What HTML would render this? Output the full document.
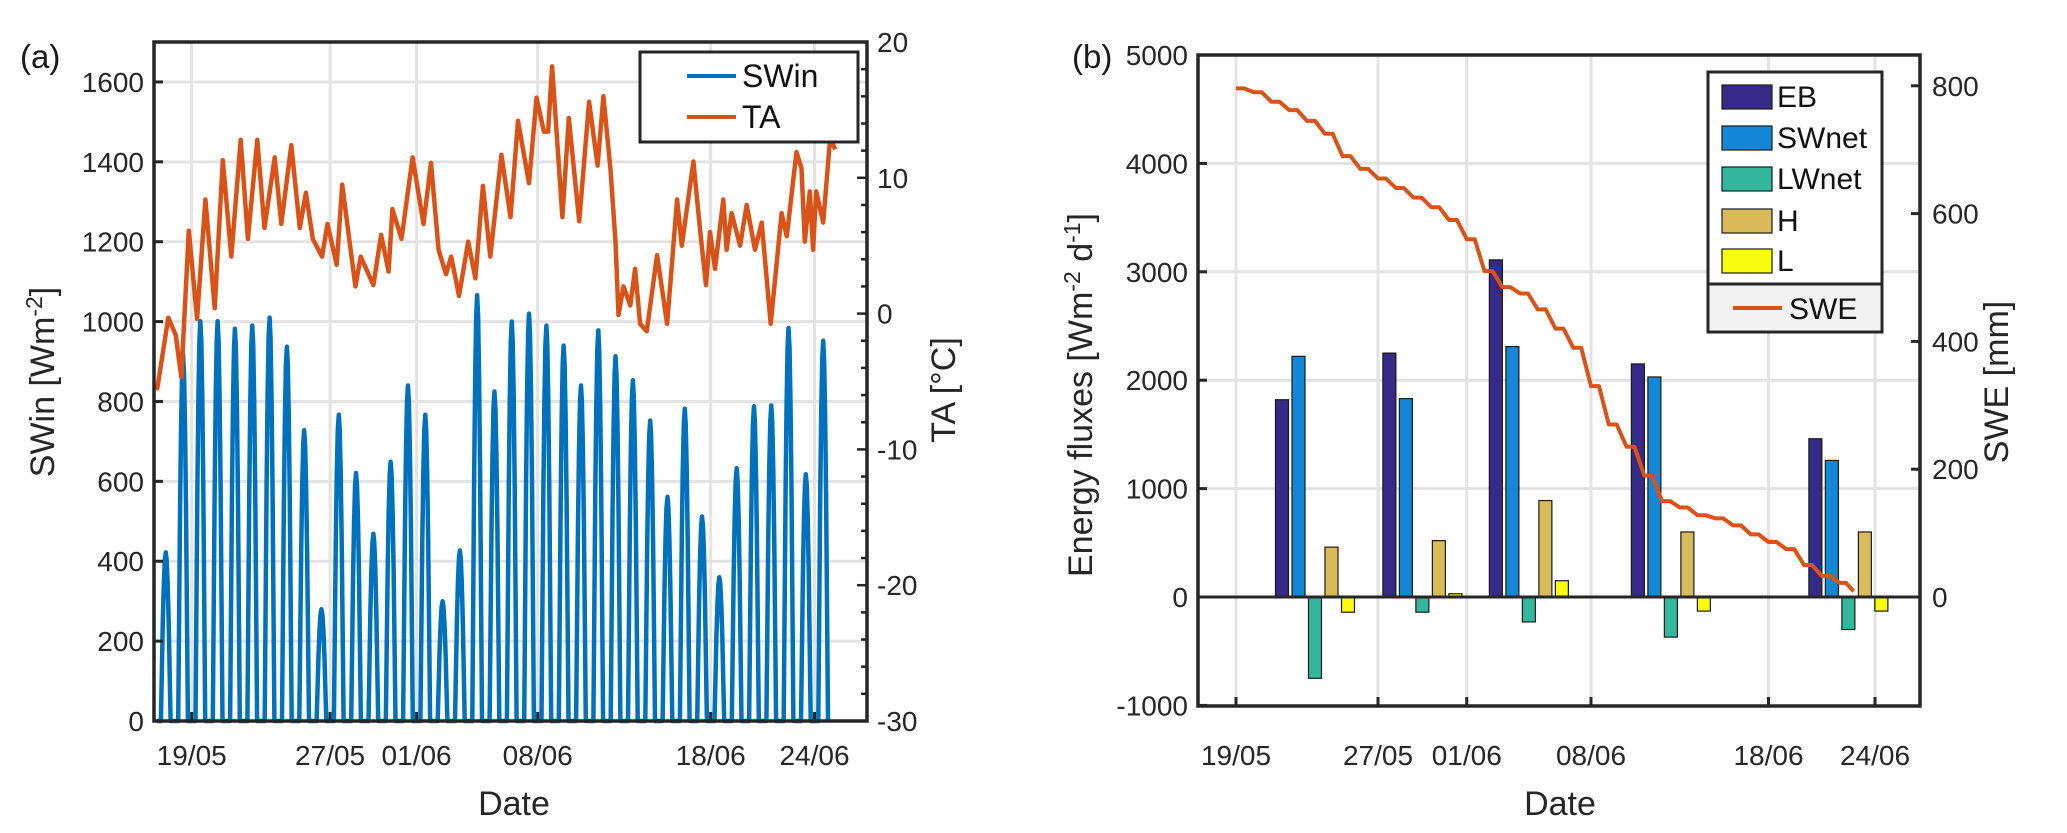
<!DOCTYPE html>
<html><head><meta charset="utf-8"><style>
html,body{margin:0;padding:0;background:#fff;}
svg{display:block;font-family:"Liberation Sans",Arial,sans-serif;}
</style></head><body>
<svg id="chart" width="2067" height="833" viewBox="0 0 2067 833" xmlns="http://www.w3.org/2000/svg"></svg>
<script>
// ---------- Panel (a) data ----------
const dateTicks = ["19/05","27/05","01/06","08/06","18/06","24/06"];
const dateTickDays = [0, 8, 13, 20, 30, 36];
const swinTicks = [0,200,400,600,800,1000,1200,1400,1600];
const taTicks = [-30,-20,-10,0,10,20];
const swinStartDay = -2;
const swinPeaks = [422,918,1001,1001,982,990,1010,937,728,280,767,621,469,649,840,767,300,427,1066,825,1000,1020,990,940,840,978,913,853,752,561,782,512,360,633,788,790,984,618,952];
const taDay = [-2.15,-1.99,-1.35,-0.92,-0.6,-0.17,0.31,0.79,1.33,1.8,2.29,2.83,3.25,3.79,4.21,4.8,5.18,5.76,6.25,6.6,7.0,7.53,7.85,8.38,8.7,9.46,9.77,10.5,10.95,11.38,11.6,12.13,12.77,13.4,13.83,14.27,14.7,15.0,15.45,15.98,16.4,16.83,17.26,17.9,18.43,18.86,19.5,19.93,20.36,20.6,20.83,21.43,21.8,22.4,22.97,23.46,23.8,24.2,24.5,24.67,24.96,25.35,25.63,25.92,26.3,26.9,27.48,28.06,28.33,29.0,29.4,29.73,29.96,30.25,30.73,30.92,31.21,31.7,32.08,32.56,32.95,33.47,34.1,34.4,34.96,35.25,35.44,35.73,35.92,36.1,36.5,36.9,37.2];
const taVal = [-5.3,-5.5,-0.3,-1.6,-4.7,6.1,-0.4,8.4,0.4,11.3,4.2,12.8,5.5,12.8,6.3,11.5,6.6,12.4,6.3,8.9,5.5,4.2,6.6,3.6,9.5,2.0,4.2,2.1,5.8,3.1,7.7,5.5,11.5,6.6,11.1,4.7,2.9,4.2,1.3,5.3,2.6,9.4,4.2,11.7,7.1,14.2,9.6,15.9,13.4,13.4,18.2,7.1,14.4,6.8,15.6,10.9,16.0,10.7,5.3,-0.1,2.0,0.6,3.3,-0.75,-1.3,4.3,-0.75,8.4,5.0,11.2,6.0,2.1,6.0,3.3,8.4,4.7,7.4,5.0,8.0,4.7,6.7,-0.75,7.4,5.7,11.9,10.7,5.3,9.0,4.7,9.0,6.7,12.9,12.1];

// ---------- Panel (b) data ----------
const fluxTicks = [-1000,0,1000,2000,3000,4000,5000];
const sweTicks = [0,200,400,600,800];
const groupDays = [4.45,10.5,16.5,24.5,34.5];
const seriesNames = ["EB","SWnet","LWnet","H","L"];
const ebVals = [1820,2250,3110,2150,1460];
const swnetVals = [2220,1830,2310,2030,1260];
const lwnetVals = [-750,-140,-230,-370,-300];
const hVals = [460,520,890,600,600];
const lVals = [-140,30,150,-130,-130];
const sweDays = [0,1,2,3,4,5,6,7,8,9,10,11,12,13,14,15,16,17,18,19,20,21,22,23,24,25,26,27,28,29,30,31,32,33,34,34.8];
const sweVals = [796,790,775,762,745,725,690,670,655,640,625,610,590,560,510,485,475,450,420,390,330,270,235,190,150,140,128,123,112,98,86,75,50,33,22,9];

const NS="http://www.w3.org/2000/svg";
const svg=document.getElementById('chart');
function el(tag,attrs,parent){const e=document.createElementNS(NS,tag);for(const k in attrs)e.setAttribute(k,attrs[k]);(parent||svg).appendChild(e);return e;}
function txt(s,attrs,parent){const e=el('text',attrs,parent);e.textContent=s;return e;}
const AX='#262626', GRID='#e3e3e3';
const TF=28, TITLEF=34, LEGF=30;

// ===== Panel A =====
const A={l:154,r:867,t:42,b:721};
const axDay=d=>191.7+d*17.3;
const aySW=v=>A.b-(v/1700)*(A.b-A.t);
const ayTA=t=>A.t+(20-t)/50*(A.b-A.t);
const gA=el('g',{});


el('rect',{x:A.l,y:A.t,width:A.r-A.l,height:A.b-A.t,fill:'#fff'},gA);
dateTickDays.forEach(d=>{const l=el('line',{x1:axDay(d),x2:axDay(d),y1:A.t,y2:A.b,stroke:GRID,'stroke-width':3},gA);});
swinTicks.forEach(v=>{if(v===0)return;const l=el('line',{x1:A.l,x2:A.r,y1:aySW(v),y2:aySW(v),stroke:GRID,'stroke-width':3},gA);});
let pts=[];
swinPeaks.forEach((p,i)=>{const d0=swinStartDay+i;
  pts.push([d0,0],[d0+0.22,0]);
  for(let k=1;k<10;k++){const f=k/10;pts.push([d0+0.22+0.56*f,p*Math.sin(Math.PI*f)]);}
  pts.push([d0+0.78,0]);});
const swLine=el('polyline',{points:pts.map(q=>axDay(q[0]).toFixed(1)+','+aySW(q[1]).toFixed(1)).join(' '),fill:'none',stroke:'#0072BD','stroke-width':4.5,'stroke-linejoin':'round'},gA);


const taLine=el('polyline',{points:taDay.map((d,i)=>axDay(d).toFixed(1)+','+ayTA(taVal[i]).toFixed(1)).join(' '),fill:'none',stroke:'#D95319','stroke-width':4.5,'stroke-linejoin':'round'},gA);


el('rect',{x:A.l,y:A.t,width:A.r-A.l,height:A.b-A.t,fill:'none',stroke:AX,'stroke-width':3.5},gA);
swinTicks.forEach(v=>{el('line',{x1:A.l,x2:A.l+9,y1:aySW(v),y2:aySW(v),stroke:AX,'stroke-width':3},gA);
  const t=txt(String(v),{x:A.l-10,y:aySW(v)+10,'font-size':TF,'text-anchor':'end',fill:'#262626'},gA);});
for(let t=-30;t<=20;t+=2){const major=t%10===0;el('line',{x1:A.r,x2:A.r-(major?10:6),y1:ayTA(t),y2:ayTA(t),stroke:AX,'stroke-width':2.5},gA);}
taTicks.forEach(v=>{const t=txt(String(v),{x:A.r+10,y:ayTA(v)+10,'font-size':TF,fill:'#262626'},gA);});
dateTicks.forEach((s,i)=>{const x=axDay(dateTickDays[i]);el('line',{x1:x,x2:x,y1:A.b,y2:A.b-9,stroke:AX,'stroke-width':3},gA);
  const t=txt(s,{x:x,y:765,'font-size':TF,'text-anchor':'middle',fill:'#262626'},gA);});
let t1=txt('Date',{x:514,y:815,'font-size':TITLEF,'text-anchor':'middle',fill:'#262626'},gA);
t1=txt('',{x:0,y:0,'font-size':TITLEF,'text-anchor':'middle',fill:'#262626',transform:'translate(54,382) rotate(-90)'},gA);
t1.innerHTML='SWin [Wm<tspan dy="-12" font-size="23">-2</tspan><tspan dy="12">]</tspan>';

t1=txt('TA [°C]',{x:0,y:0,'font-size':TITLEF,'text-anchor':'middle',fill:'#262626',transform:'translate(955,390) rotate(-90)'},gA);

t1=txt('(a)',{x:20,y:68,'font-size':33,fill:'#1a1a1a'},gA);
const lgA=el('g',{},gA);
el('rect',{x:640,y:52,width:218,height:90,fill:'#fff',stroke:AX,'stroke-width':3},lgA);
el('line',{x1:687,x2:736,y1:76,y2:76,stroke:'#0072BD','stroke-width':4},lgA);
el('line',{x1:687,x2:736,y1:117,y2:117,stroke:'#D95319','stroke-width':4},lgA);
t1=txt('SWin',{x:742,y:87,'font-size':32,fill:'#111'},lgA);
t1=txt('TA',{x:742,y:128,'font-size':32,fill:'#111'},lgA);

// ===== Panel B =====
const B={l:1198,r:1920,t:55,b:706};
const bxDay=d=>1236+d*17.75;
const byF=v=>597-v*0.1084;
const byS=v=>597-v*0.639;
const gB=el('g',{});


dateTickDays.forEach(d=>{const l=el('line',{x1:bxDay(d),x2:bxDay(d),y1:B.t,y2:B.b,stroke:GRID,'stroke-width':3},gB);});
fluxTicks.forEach(v=>{if(v===-1000||v===5000)return;const l=el('line',{x1:B.l,x2:B.r,y1:byF(v),y2:byF(v),stroke:GRID,'stroke-width':3},gB);});
const colors=['#352A87','#1487D8','#33B89E','#D9BB59','#F9FB0E'];
const allVals=[ebVals,swnetVals,lwnetVals,hVals,lVals];
groupDays.forEach((gd,gi)=>{const c=bxDay(gd);
  allVals.forEach((arr,si)=>{const v=arr[gi];const x=c+(si-2)*16.5-6.5;const y0=byF(0),y1=byF(v);
    const r=el('rect',{x:x,y:Math.min(y0,y1),width:13,height:Math.abs(y1-y0),fill:colors[si],stroke:'#1a1a1a','stroke-width':1.2},gB);
    
    });});
el('line',{x1:B.l,x2:B.r,y1:byF(0),y2:byF(0),stroke:AX,'stroke-width':3},gB);
let sp=[];
sweDays.forEach((d,i)=>{sp.push([d,sweVals[i]]);if(i<sweDays.length-1)sp.push([d+0.45*(sweDays[i+1]-d),sweVals[i]]);});
const sweLine=el('polyline',{points:sp.map(q=>bxDay(q[0]).toFixed(1)+','+byS(q[1]).toFixed(1)).join(' '),fill:'none',stroke:'#D95319','stroke-width':4,'stroke-linejoin':'round'},gB);


el('rect',{x:B.l,y:B.t,width:B.r-B.l,height:B.b-B.t,fill:'none',stroke:AX,'stroke-width':3.5},gB);
fluxTicks.forEach(v=>{el('line',{x1:B.l,x2:B.l+9,y1:byF(v),y2:byF(v),stroke:AX,'stroke-width':3},gB);
  const t=txt(String(v),{x:B.l-10,y:byF(v)+10,'font-size':TF,'text-anchor':'end',fill:'#262626'},gB);});
sweTicks.forEach(v=>{el('line',{x1:B.r,x2:B.r-9,y1:byS(v),y2:byS(v),stroke:AX,'stroke-width':3},gB);
  const t=txt(String(v),{x:B.r+12,y:byS(v)+10,'font-size':TF,fill:'#262626'},gB);});
dateTicks.forEach((s,i)=>{const x=bxDay(dateTickDays[i]);el('line',{x1:x,x2:x,y1:B.b,y2:B.b-9,stroke:AX,'stroke-width':3},gB);
  const t=txt(s,{x:x,y:765,'font-size':TF,'text-anchor':'middle',fill:'#262626'},gB);});
t1=txt('Date',{x:1560,y:815,'font-size':TITLEF,'text-anchor':'middle',fill:'#262626'},gB);
t1=txt('',{x:0,y:0,'font-size':TITLEF,'text-anchor':'middle',fill:'#262626',transform:'translate(1092,395) rotate(-90)'},gB);
t1.innerHTML='Energy fluxes [Wm<tspan dy="-12" font-size="23">-2</tspan><tspan dy="12"> d</tspan><tspan dy="-12" font-size="23">-1</tspan><tspan dy="12">]</tspan>';

t1=txt('SWE [mm]',{x:0,y:0,'font-size':TITLEF,'text-anchor':'middle',fill:'#262626',transform:'translate(2008,382) rotate(-90)'},gB);

t1=txt('(b)',{x:1072,y:68,'font-size':33,fill:'#1a1a1a'},gB);
const lgB=el('g',{},gB);
el('rect',{x:1708,y:72,width:174,height:260,fill:'#fff',stroke:AX,'stroke-width':3},lgB);
el('rect',{x:1710,y:285,width:170,height:45,fill:'#f2f2f2'},lgB);
el('line',{x1:1708,x2:1882,y1:284,y2:284,stroke:AX,'stroke-width':3},lgB);
const legY=[97,138,179,221,261];
seriesNames.forEach((n,i)=>{el('rect',{x:1722,y:legY[i]-12,width:50,height:24,fill:colors[i],stroke:'#1a1a1a','stroke-width':1.2},lgB);
  const t=txt(n,{x:1777,y:legY[i]+10,'font-size':LEGF,fill:'#111'},lgB);});
el('line',{x1:1733,x2:1782,y1:308,y2:308,stroke:'#D95319','stroke-width':4},lgB);
t1=txt('SWE',{x:1789,y:319,'font-size':LEGF,fill:'#111'},lgB);
</script>
</body></html>
